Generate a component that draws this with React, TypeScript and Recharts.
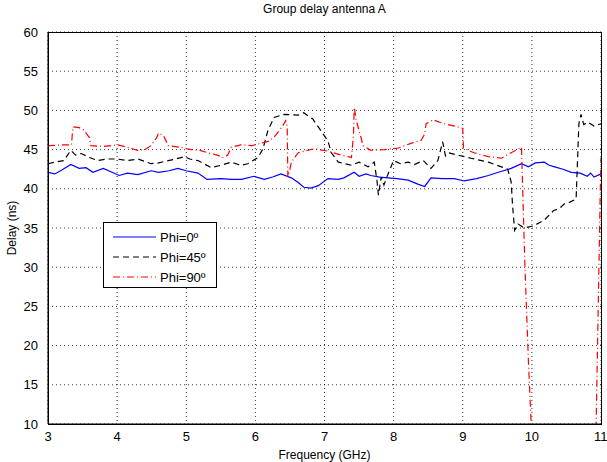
import { LineChart, Line, XAxis, YAxis, CartesianGrid } from 'recharts'

// frequency ticks (GHz) and delay ticks (ns)
const xTicks = [3, 4, 5, 6, 7, 8, 9, 10, 11]
const yTicks = [10, 15, 20, 25, 30, 35, 40, 45, 50, 55, 60]

// Phi=0 (blue)
const phi0F = [3.0, 3.1, 3.2, 3.33, 3.45, 3.55, 3.65, 3.8, 3.9, 4.03, 4.15, 4.3, 4.49, 4.6, 4.75, 4.88, 5.0, 5.17, 5.3, 5.5, 5.65, 5.8, 5.98, 6.13, 6.25, 6.37, 6.52, 6.62, 6.7, 6.8, 6.91, 7.05, 7.2, 7.28, 7.43, 7.5, 7.6, 7.67, 7.8, 7.92, 8.05, 8.21, 8.35, 8.45, 8.54, 8.7, 8.88, 9.02, 9.2, 9.37, 9.55, 9.7, 9.85, 9.95, 10.05, 10.18, 10.25, 10.33, 10.45, 10.57, 10.7, 10.8, 10.85, 10.9, 11.0]
const phi0D = [42.1, 41.9, 42.4, 43.1, 42.6, 42.7, 42.1, 42.6, 42.2, 41.7, 42.0, 41.8, 42.3, 42.1, 42.3, 42.6, 42.3, 42.0, 41.2, 41.3, 41.2, 41.2, 41.6, 41.2, 41.5, 41.9, 41.4, 40.8, 40.2, 40.1, 40.4, 41.3, 41.2, 41.4, 42.1, 41.6, 41.9, 41.7, 41.5, 41.4, 41.3, 41.1, 40.6, 40.3, 41.4, 41.3, 41.3, 41.0, 41.3, 41.7, 42.2, 42.6, 43.2, 42.8, 43.3, 43.4, 43.0, 42.8, 42.5, 42.1, 42.0, 41.6, 42.0, 41.5, 41.9]

// Phi=45 (black)
const phi45F = [3.0, 3.1, 3.23, 3.33, 3.4, 3.48, 3.6, 3.72, 3.85, 4.0, 4.15, 4.3, 4.4, 4.49, 4.6, 4.74, 4.85, 4.97, 5.05, 5.17, 5.36, 5.5, 5.65, 5.79, 5.89, 6.04, 6.11, 6.18, 6.27, 6.42, 6.62, 6.7, 6.83, 6.95, 7.05, 7.1, 7.2, 7.39, 7.5, 7.63, 7.72, 7.76, 7.78, 7.82, 7.86, 7.92, 8.0, 8.1, 8.21, 8.3, 8.43, 8.54, 8.64, 8.71, 8.75, 8.79, 8.93, 9.12, 9.37, 9.56, 9.65, 9.7, 9.72, 9.75, 9.8, 9.89, 10.03, 10.18, 10.31, 10.4, 10.47, 10.55, 10.64, 10.66, 10.68, 10.71, 10.75, 10.81, 10.9, 11.0]
const phi45D = [43.2, 43.4, 43.6, 44.9, 44.3, 44.5, 44.0, 43.6, 43.8, 43.8, 43.6, 43.8, 43.5, 43.2, 43.3, 43.6, 43.8, 44.1, 43.8, 43.6, 42.7, 43.0, 43.4, 43.0, 43.2, 44.0, 45.1, 47.4, 49.1, 49.5, 49.4, 49.7, 48.9, 47.4, 46.1, 44.6, 43.4, 43.0, 43.4, 42.8, 43.4, 41.0, 39.2, 41.5, 40.5, 41.9, 43.6, 43.2, 43.4, 43.1, 43.6, 42.6, 43.6, 46.0, 44.2, 44.6, 44.3, 43.9, 43.4, 42.8, 42.5, 40.9, 38.0, 34.7, 35.5, 35.0, 35.3, 36.0, 37.2, 37.5, 38.1, 38.3, 38.7, 43.5, 48.3, 49.5, 48.2, 48.5, 48.0, 48.3]

// Phi=90 (red)
const phi90F = [3.0, 3.2, 3.34, 3.36, 3.45, 3.52, 3.6, 3.62, 3.8, 4.01, 4.15, 4.3, 4.4, 4.49, 4.57, 4.6, 4.67, 4.74, 4.9, 5.07, 5.2, 5.31, 5.45, 5.53, 5.6, 5.65, 5.79, 5.95, 6.08, 6.2, 6.27, 6.38, 6.44, 6.46, 6.47, 6.5, 6.52, 6.62, 6.75, 6.85, 7.05, 7.24, 7.39, 7.42, 7.43, 7.46, 7.51, 7.56, 7.67, 7.86, 8.07, 8.25, 8.4, 8.45, 8.47, 8.57, 8.73, 8.93, 9.0, 9.01, 9.16, 9.37, 9.56, 9.7, 9.85, 9.86, 9.9, 9.95, 9.99, 10.02, 10.9, 10.93, 10.96, 10.99, 11.0]
const phi90D = [45.5, 45.6, 45.6, 47.9, 47.8, 47.5, 46.5, 45.5, 45.4, 45.6, 45.3, 44.9, 45.0, 45.5, 46.5, 47.1, 46.8, 45.5, 45.3, 45.0, 44.9, 44.6, 44.3, 44.0, 44.3, 45.3, 45.6, 45.5, 45.8, 46.1, 46.6, 47.8, 48.7, 48.0, 41.5, 42.5, 43.4, 44.6, 44.9, 45.1, 44.8, 44.3, 44.0, 47.0, 50.4, 48.7, 47.1, 45.5, 44.9, 45.0, 45.2, 45.8, 46.2, 47.0, 48.3, 48.8, 48.3, 47.9, 47.7, 45.2, 44.6, 44.1, 43.9, 44.6, 45.3, 42.0, 30.0, 18.0, 10.0, 8.0, 8.0, 10.0, 25.0, 40.0, 44.0]

const toRows = (f: number[], d: number[]) => f.map((v, i) => ({ f: v, d: d[i] }))

const font = '"Liberation Sans", Arial, Helvetica, sans-serif'
const tickStyle = { fontSize: 13, fill: '#000', fontFamily: font }

const legendItems = [
  { name: 'Phi=0º', color: '#0000ff', dash: undefined },
  { name: 'Phi=45º', color: '#000000', dash: '6 4' },
  { name: 'Phi=90º', color: '#ff0000', dash: '7 3 1 3' },
]

export default function App() {
  return (
    <div style={{ position: 'absolute', left: 0, top: 0, width: 607, height: 462, background: '#fff', fontFamily: font }}>
      <div style={{ position: 'absolute', left: 48, width: 553, top: 2, textAlign: 'center', fontSize: 12 }}>
        Group delay antenna A
      </div>
      <LineChart width={607} height={462} margin={{ top: 32, right: 6, bottom: 0, left: 0 }}>
        <CartesianGrid stroke="#000" strokeDasharray="1 3" strokeWidth={0.8} />
        <XAxis
          dataKey="f"
          type="number"
          domain={[3, 11]}
          ticks={xTicks}
          height={38}
          stroke="#000"
          tickLine={false}
          tick={tickStyle}
          tickMargin={2}
          label={{ value: 'Frequency (GHz)', position: 'insideBottom', offset: 3, style: { fontSize: 12, fill: '#000', fontFamily: font } }}
        />
        <YAxis
          type="number"
          domain={[10, 60]}
          ticks={yTicks}
          allowDataOverflow
          width={48}
          stroke="#000"
          tickLine={false}
          tick={tickStyle}
          tickMargin={4}
          label={{ value: 'Delay (ns)', angle: -90, position: 'insideLeft', offset: 12, textAnchor: 'middle', style: { fontSize: 12, fill: '#000', fontFamily: font, textAnchor: 'middle' } }}
        />
        <Line data={toRows(phi0F, phi0D)} dataKey="d" stroke="#0000ff" strokeWidth={1.2} dot={false} isAnimationActive={false} />
        <Line data={toRows(phi45F, phi45D)} dataKey="d" stroke="#000000" strokeWidth={1.2} strokeDasharray="6 4" dot={false} isAnimationActive={false} />
        <Line data={toRows(phi90F, phi90D)} dataKey="d" stroke="#ff0000" strokeWidth={1.2} strokeDasharray="7 3 1 3" dot={false} isAnimationActive={false} />
      </LineChart>
      {/* plot frame */}
      <div style={{ position: 'absolute', left: 48, top: 32, width: 552, height: 391, border: '1px solid #000', pointerEvents: 'none' }} />
      <div style={{ position: 'absolute', left: 103, top: 222, width: 112, height: 64, border: '1px solid #000', background: '#fff', fontSize: 13 }}>
        {legendItems.map((it, i) => (
          <div key={it.name} style={{ position: 'absolute', left: 0, top: 5 + i * 20, height: 18, display: 'flex', alignItems: 'center' }}>
            <svg width={56} height={18}>
              <line x1={9} y1={9} x2={52} y2={9} stroke={it.color} strokeWidth={1.2} strokeDasharray={it.dash} />
            </svg>
            <span>{it.name}</span>
          </div>
        ))}
      </div>
    </div>
  )
}
